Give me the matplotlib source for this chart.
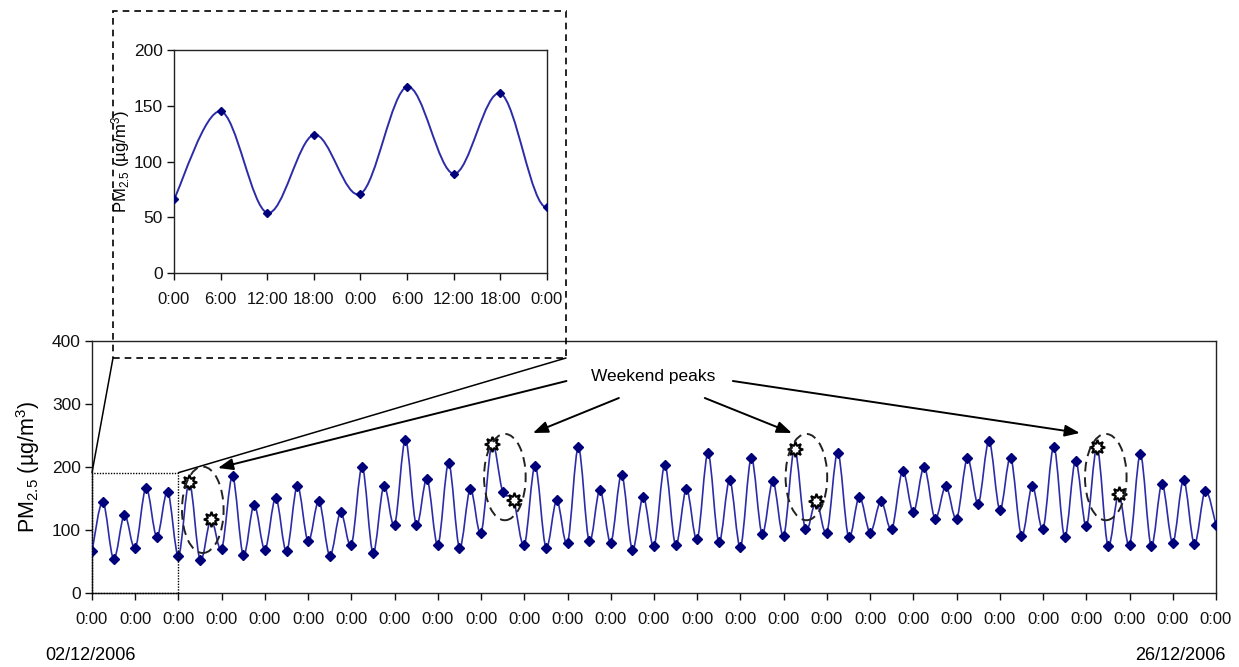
import matplotlib
matplotlib.use("Agg")
import matplotlib.pyplot as plt
import numpy as np
from matplotlib.path import Path
from matplotlib.patches import PathPatch, Rectangle, Ellipse, ConnectionPatch

plt.rcParams['font.family'] = ['Liberation Sans', 'DejaVu Sans']
plt.rcParams['mathtext.fontset'] = 'custom'
plt.rcParams['mathtext.rm'] = 'Liberation Sans'
plt.rcParams['mathtext.it'] = 'Liberation Sans:italic'

# ---- data (6-hourly PM2.5, 02/12/2006 - 26/12/2006) ----
pm25 = [66, 145, 54, 124, 71, 167, 89, 161, 59,
        176, 52, 117, 70, 185, 60, 140, 69, 151,
        66, 170, 82, 146, 59, 128, 76, 200, 64, 170, 108, 243, 108, 181, 76, 206, 72, 165,
        95, 236, 161, 148, 76, 202, 72, 147, 79, 231, 82, 164, 80, 188, 69, 153, 74, 203,
        76, 165, 85, 222, 81, 179, 73, 214, 94, 177, 91, 229, 101, 146, 96, 223, 89,
        153, 96, 146, 101, 194, 128, 200, 118, 170, 118, 214, 142, 241, 132, 215, 91, 170, 102,
        232, 89, 210, 106, 231, 75, 157, 76, 220, 75, 173, 80, 179, 78, 162, 108]
weekend_idx = [9, 11, 37, 39, 65, 67, 93, 95]
inset_labels = ['0:00', '6:00', '12:00', '18:00', '0:00', '6:00', '12:00', '18:00', '0:00']
main_tick_label = '0:00'
start_date = '02/12/2006'
end_date = '26/12/2006'
annot_text = 'Weekend peaks'

x = np.arange(len(pm25))
y = np.array(pm25, dtype=float)

LINE_C = '#2c2ca8'
MARK_C = '#00007a'

W, H = 1239, 667
fig = plt.figure(figsize=(W / 100, H / 100), dpi=100)


def px(l, t, r, b):
    return [l / W, 1 - b / H, (r - l) / W, (b - t) / H]


def smooth_path(xs, ys):
    verts = [(xs[0], ys[0])]
    codes = [Path.MOVETO]
    n = len(xs)
    for i in range(n - 1):
        p0 = np.array([xs[max(i - 1, 0)], ys[max(i - 1, 0)]])
        p1 = np.array([xs[i], ys[i]])
        p2 = np.array([xs[i + 1], ys[i + 1]])
        p3 = np.array([xs[min(i + 2, n - 1)], ys[min(i + 2, n - 1)]])
        c1 = p1 + (p2 - p0) / 6.0
        c2 = p2 - (p3 - p1) / 6.0
        verts += [tuple(c1), tuple(c2), tuple(p2)]
        codes += [Path.CURVE4] * 3
    return Path(verts, codes)


def style_axes(ax, size):
    for s in ax.spines.values():
        s.set_linewidth(1.0)
        s.set_color('#222222')
    ax.tick_params(direction='out', length=5, width=1, labelsize=size, colors='#111111')


# ---- main axes ----
ax = fig.add_axes(px(92, 341, 1216, 593))
ax.add_patch(PathPatch(smooth_path(x, y), fill=False, edgecolor=LINE_C, lw=1.2, zorder=3))
normal = [i for i in x if i not in weekend_idx]
ax.plot(x[normal], y[normal], linestyle='none', marker='D', ms=5.5, color=MARK_C, zorder=4)
ax.plot(x[weekend_idx], y[weekend_idx], linestyle='none', marker=(8, 1, 0), ms=11,
        mfc='white', mec='black', mew=1.5, zorder=5)
ax.set_xlim(0, len(pm25) - 1)
ax.set_ylim(0, 400)
ax.set_yticks([0, 100, 200, 300, 400])
ax.set_xticks(np.arange(0, len(pm25), 4))
ax.set_xticklabels([main_tick_label] * len(np.arange(0, len(pm25), 4)))
style_axes(ax, 12)
ax.tick_params(axis='y', labelsize=12.5, pad=3)
ax.tick_params(axis='x', pad=9)
ax.set_ylabel('PM$_{2.5}$ (µg/m$^3$)', fontsize=15.5, labelpad=7)

# zoom box in main axes
ax.add_patch(Rectangle((0, 0), 8, 191, fill=False, linestyle=(0, (1, 1)), lw=1.0,
                       edgecolor='black', zorder=6, clip_on=False))

# ellipses around weekend peaks
for cx, cy in [(10.25, 132), (38.2, 184), (66.1, 184), (93.8, 184)]:
    ax.add_patch(Ellipse((cx, cy), 3.85, 137, fill=False, linestyle=(0, (5, 3)),
                         lw=1.4, edgecolor='#222222', zorder=6))

# annotation
ax.text(51.9, 343, annot_text, ha='center', va='center', fontsize=12.5)
arrows = [((43.9, 336.5), (11.66, 198.4)),
          ((48.75, 309.5), (40.8, 254)),
          ((56.7, 309.5), (64.75, 254)),
          ((59.3, 336.5), (91.4, 254))]
for (sx, sy), (tx, ty) in arrows:
    ax.annotate('', xy=(tx, ty), xytext=(sx, sy),
                arrowprops=dict(arrowstyle='-|>,head_length=0.9,head_width=0.35',
                                color='black', lw=1.4, shrinkA=0, shrinkB=0),
                zorder=7)

# ---- inset ----
axi = fig.add_axes(px(174, 50, 547, 273))
xi = x[:9]
yi = y[:9]
axi.add_patch(PathPatch(smooth_path(x[:10], y[:10]), fill=False, edgecolor=LINE_C,
                        lw=1.4, zorder=3))
axi.plot(xi, yi, linestyle='none', marker='D', ms=4.5, color=MARK_C, zorder=4)
axi.set_xlim(0, 8)
axi.set_ylim(0, 200)
axi.set_yticks([0, 50, 100, 150, 200])
axi.set_xticks(np.arange(9))
axi.set_xticklabels(inset_labels)
style_axes(axi, 12)
axi.tick_params(axis='y', labelsize=12.5, pad=3)
axi.tick_params(axis='x', pad=9)
axi.set_ylabel('PM$_{2.5}$ (µg/m$^3$)', fontsize=12, labelpad=1)

# dashed frame around inset
fig.patches.append(Rectangle((113 / W, 1 - 358 / H), (566 - 113) / W, (358 - 11) / H,
                             transform=fig.transFigure, fill=False,
                             linestyle=(0, (4, 3)), lw=1.2, edgecolor='black'))

# connector lines
for (dx, dy), (fx, fy) in [((0, 191), (113, 358)), ((8, 191), (566, 358))]:
    con = ConnectionPatch(xyA=(dx, dy), coordsA=ax.transData,
                          xyB=(fx / W, 1 - fy / H), coordsB=fig.transFigure,
                          color='black', lw=1.1)
    fig.add_artist(con)

# dates
fig.text(90 / W, 1 - 656 / H, start_date, ha='center', va='center', fontsize=13)
fig.text(1180 / W, 1 - 656 / H, end_date, ha='center', va='center', fontsize=13)

fig.savefig('out.png', dpi=100)
